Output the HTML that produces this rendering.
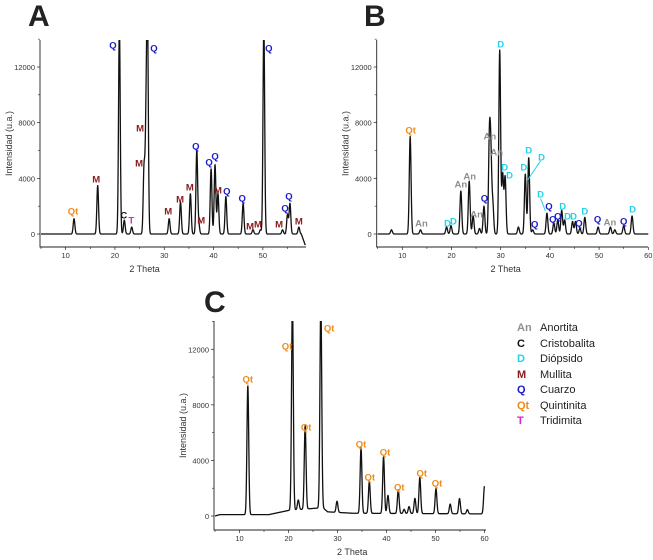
<!DOCTYPE html>
<html><head><meta charset="utf-8">
<style>
html,body{margin:0;padding:0;background:#fff;}
svg{display:block;font-family:"Liberation Sans",Arial,sans-serif;}
</style></head>
<body>
<svg id="fig" width="653" height="560" viewBox="0 0 653 560">
<defs>
<clipPath id="clipA"><rect x="40" y="40" width="270" height="220"/></clipPath>
<clipPath id="clipB"><rect x="377" y="40" width="275" height="220"/></clipPath>
<clipPath id="clipC"><rect x="215" y="321" width="275" height="220"/></clipPath>
</defs>
<text x="28" y="26" font-size="30" font-weight="bold" fill="#222">A</text>
<text x="364" y="26" font-size="30" font-weight="bold" fill="#222">B</text>
<text x="204" y="312" font-size="30" font-weight="bold" fill="#222">C</text>
<g id="legend" font-size="11">
<g><text x="517" y="331" fill="#909090" font-weight="bold">An</text><text x="540" y="331" fill="#222">Anortita</text></g>
<g><text x="517" y="347" fill="#111" font-weight="bold">C</text><text x="540" y="347" fill="#222">Cristobalita</text></g>
<g><text x="517" y="362" fill="#22d3e6" font-weight="bold">D</text><text x="540" y="362" fill="#222">Diópsido</text></g>
<g><text x="517" y="378" fill="#8b1a1a" font-weight="bold">M</text><text x="540" y="378" fill="#222">Mullita</text></g>
<g><text x="517" y="393" fill="#1a1acc" font-weight="bold">Q</text><text x="540" y="393" fill="#222">Cuarzo</text></g>
<g><text x="517" y="409" fill="#f08a1a" font-weight="bold">Qt</text><text x="540" y="409" fill="#222">Quintinita</text></g>
<g><text x="517" y="424" fill="#e020d0" font-weight="bold">T</text><text x="540" y="424" fill="#222">Tridimita</text></g>
</g>
</svg>
<script>
// ---- Panel A data ----
const peaksA_theta = [11.7,16.5,20.9,21.9,23.4,25.9,26.3,26.6,31.0,33.3,35.3,36.6,37.0,39.5,40.3,40.9,42.5,46.0,48.0,49.5,50.2,54.0,55.0,55.5,57.3];
const peaksA_int   = [1100,3500,15000,1000,500,4700,7000,15000,1100,2300,2900,6000,700,4700,5000,2900,2700,2200,300,300,15000,300,1400,2200,500];
const bgA_theta = [5,57.8,58.6];
const bgA_int   = [0,0,-800];
const labelsA_text  = ["Q","Q","M","M","M","Qt","C","T","M","M","M","Q","M","Q","Q","M","Q","Q","M","M","Q","M","Q","Q","M"];
const labelsA_phase = ["Q","Q","M","M","M","Qt","C","T","M","M","M","Q","M","Q","Q","M","Q","Q","M","M","Q","M","Q","Q","M"];
const labelsA_theta = [19.6,27.9,25.1,24.9,16.2,11.5,21.8,23.3,30.8,33.2,35.2,36.4,37.5,39.1,40.3,40.9,42.7,45.8,47.4,49.0,51.2,53.3,54.5,55.3,57.3];
const labelsA_int   = [13580,13370,7620,5100,3950,1650,1370,1010,1650,2510,3380,6320,1010,5170,5600,3160,3090,2590,570,720,13370,720,1870,2730,930];
// ---- Panel B data ----
const peaksB_theta = [7.8,11.6,13.7,19.0,19.9,21.9,23.6,24.4,25.7,26.6,27.7,28.0,28.4,29.8,30.4,30.9,33.6,35.0,35.7,36.5,39.4,40.8,41.6,42.4,43.0,44.6,45.2,46.1,47.1,49.8,52.3,53.2,55.0,56.7];
const peaksB_int   = [300,7000,300,500,600,3100,3800,1300,400,2000,6500,5200,2100,13200,4300,4100,500,4300,5500,300,1500,800,1000,1700,1000,900,900,400,1200,500,500,300,600,1300];
const bgB_theta = [5,60];
const bgB_int   = [0,0];
const labelsB_text  = ["Qt","An","D","D","An","An","An","Q","An","An","D","D","D","D","D","D","D","Q","Q","Q","Q","D","D","D","Q","D","Q","An","Q","D"];
const labelsB_phase = ["Qt","An","D","D","An","An","An","Q","An","An","D","D","D","D","D","D","D","Q","Q","Q","Q","D","D","D","Q","D","Q","An","Q","D"];
const labelsB_theta = [11.7,13.9,19.2,20.4,21.9,23.7,25.1,26.7,27.8,29.2,30.0,30.8,31.8,34.7,35.7,38.3,38.1,36.9,39.8,40.6,41.6,42.6,43.6,44.8,45.9,47.1,49.7,52.2,55.0,56.8];
const labelsB_int   = [7470,790,790,930,3590,4170,1440,2590,7040,5890,13650,4810,4240,4810,6040,5530,2870,720,2010,1080,1290,2010,1290,1290,790,1650,1080,860,930,1800];
// ---- Panel C data ----
const peaksC_theta = [11.7,20.8,22.0,23.4,26.6,29.9,34.8,36.5,39.4,40.3,42.4,43.6,44.6,45.8,46.8,50.1,53.0,54.9,56.5,60.0];
const peaksC_int   = [9300,15000,700,6000,15000,800,4700,2300,4100,1300,1700,300,500,1100,2600,1800,700,1100,300,2000];
const bgC_theta = [5,6,16,20,27,28,33,60];
const bgC_int   = [0,100,100,400,600,300,200,150];
const labelsC_theta = [11.7,19.7,28.3,23.6,34.8,36.6,39.7,42.6,47.2,50.3];
const labelsC_int   = [9860,12230,13530,6400,5180,2810,4600,2090,3090,2370];
const yTicks = [0,4000,8000,12000];
const yTickLabels = ["0","4000","8000","12000"];
const xTicksAB = [10,20,30,40,50];
const xTicksBC = [10,20,30,40,50,60];

const phaseColor = {Q:"#1a1acc",M:"#8b1a1a",Qt:"#f08a1a",C:"#111",T:"#e020d0",An:"#8f8f8f",D:"#22d3e6"};
const svg = document.getElementById('fig');
const NS = "http://www.w3.org/2000/svg";
function mk(tag, attrs, parent){const e=document.createElementNS(NS,tag);for(const k in attrs)e.setAttribute(k,attrs[k]);(parent||svg).appendChild(e);return e;}

function interp(xs, ys, x){
  if(x<=xs[0])return ys[0];
  for(let i=1;i<xs.length;i++){if(x<=xs[i]){const t=(x-xs[i-1])/(xs[i]-xs[i-1]);return ys[i-1]+t*(ys[i]-ys[i-1]);}}
  return ys[ys.length-1];
}

function panel(cfg){
  const g = mk('g',{});
  
  
  const X = t => cfg.x0 + (t-5)*cfg.xs;
  const Y = v => cfg.y0 - v/12000*cfg.ys;
  let d="";
  for(let t=5; t<=cfg.tmax+1e-9; t+=0.04){
    let v = interp(cfg.bgT,cfg.bgI,t);
    for(let i=0;i<cfg.pT.length;i++){const dx=(t-cfg.pT[i])/cfg.sig; v+=cfg.pI[i]*Math.exp(-0.5*dx*dx);}
    d += (d?"L":"M")+X(t).toFixed(2)+","+Y(v).toFixed(2);
  }
  const line = mk('path',{d:d,fill:"none",stroke:"#111","stroke-width":"1.3","stroke-linejoin":"round","clip-path":"url(#"+cfg.clip+")"},g);
  
  
  const yb = cfg.axisBottom;
  const ax = mk('path',{d:`M${cfg.x0-1},${cfg.top}V${yb}H${cfg.xEnd}`,fill:"none",stroke:"#222","stroke-width":"0.9"},g);
  
  
  yTicks.forEach((v,i)=>{
    mk('line',{x1:cfg.x0-1,x2:cfg.x0-4,y1:Y(v),y2:Y(v),stroke:"#222","stroke-width":"0.7"},g);
    mk('line',{x1:cfg.x0-1,x2:cfg.x0-3,y1:Y(v+2000),y2:Y(v+2000),stroke:"#222","stroke-width":"0.6"},g);
    const tl = mk('text',{x:cfg.x0-6,y:Y(v)+3,"font-size":"7.5","text-anchor":"end",fill:"#333"},g);
    tl.textContent = yTickLabels[i];
    
    
  });
  cfg.xt.forEach(t=>{
    mk('line',{x1:X(t),x2:X(t),y1:yb,y2:yb+3,stroke:"#222","stroke-width":"0.7"},g);
    const tl = mk('text',{x:X(t),y:yb+11,"font-size":"7.5","text-anchor":"middle",fill:"#333"},g);
    tl.textContent = String(t);
    
    
  });
  for(let t=5;t<=cfg.tmax;t+=10){mk('line',{x1:X(t),x2:X(t),y1:yb,y2:yb+2,stroke:"#222","stroke-width":"0.6"},g);}
  const yt = mk('text',{x:0,y:0,"font-size":"9",fill:"#333","text-anchor":"middle",transform:`translate(${cfg.x0-29},${(cfg.top+yb)/2}) rotate(-90)`},g);
  yt.textContent="Intensidad (u.a.)";
  
  
  const xt = mk('text',{x:X(cfg.xtitleT),y:yb+25,"font-size":"9",fill:"#333","text-anchor":"middle"},g);
  xt.textContent="2 Theta";
  
  
  cfg.lT.forEach((t,i)=>{
    const lb = mk('text',{x:X(t),y:Y(cfg.lI[i])+3.5,"font-size":"9.5","font-weight":"bold","text-anchor":"middle",fill:phaseColor[cfg.lP[i]]},g);
    lb.textContent = cfg.lTxt[i];
    
    
  });
  return {g,X,Y};
}

panel({name:"panel-a",x0:41,xs:4.93,y0:234,ys:167,top:40,axisBottom:247,xEnd:306,tmax:58.6,clip:"clipA",
  pT:peaksA_theta,pI:peaksA_int,bgT:bgA_theta,bgI:bgA_int,sig:0.17,xt:xTicksAB,xtitleT:26,
  lT:labelsA_theta,lI:labelsA_int,lP:labelsA_phase,lTxt:labelsA_text});
const pb = panel({name:"panel-b",x0:377.7,xs:4.92,y0:234,ys:167,top:40,axisBottom:247,xEnd:648,tmax:60,clip:"clipB",
  pT:peaksB_theta,pI:peaksB_int,bgT:bgB_theta,bgI:bgB_int,sig:0.18,xt:xTicksBC,xtitleT:31,
  lT:labelsB_theta,lI:labelsB_int,lP:labelsB_phase,lTxt:labelsB_text});
[[38.1,5250,35.5,3900],[38.1,2550,39.1,1650]].forEach(s=>{
  const l = mk('line',{x1:pb.X(s[0]),y1:pb.Y(s[1]),x2:pb.X(s[2]),y2:pb.Y(s[3]),stroke:"#22d3e6","stroke-width":"1"},pb.g);
  
  
});
panel({name:"panel-c",x0:215,xs:4.9,y0:516,ys:166.7,top:321,axisBottom:530,xEnd:486,tmax:60,clip:"clipC",
  pT:peaksC_theta,pI:peaksC_int,bgT:bgC_theta,bgI:bgC_int,sig:0.18,xt:xTicksBC,xtitleT:33,
  lT:labelsC_theta,lI:labelsC_int,lP:labelsC_theta.map(()=>"Qt"),lTxt:labelsC_theta.map(()=>"Qt")});
</script>
</body></html>
